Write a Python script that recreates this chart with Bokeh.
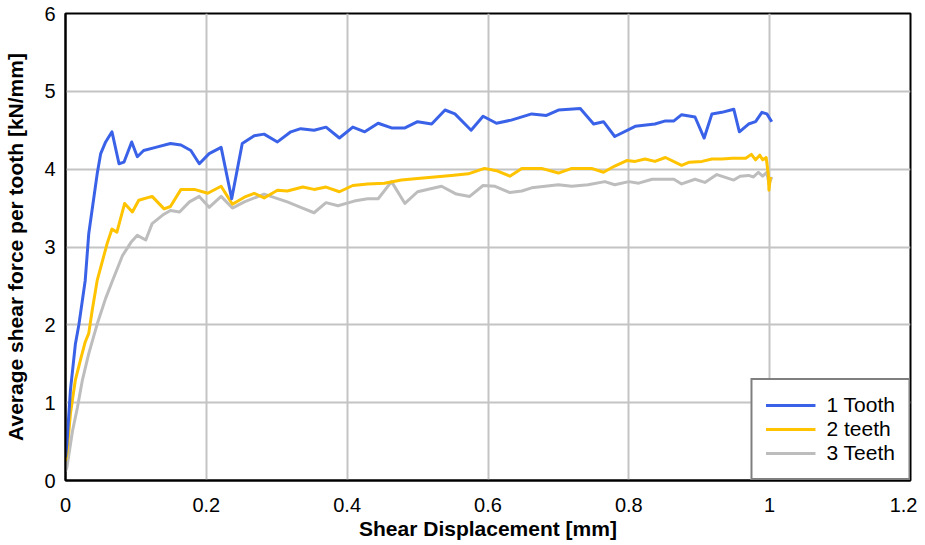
from bokeh.plotting import figure
from bokeh.models import Range1d, FixedTicker, Legend, LegendItem
from bokeh.embed import file_html
from bokeh.resources import INLINE

# ---- data ----
x_one = [0.0, 0.002, 0.007, 0.014, 0.019, 0.028, 0.033, 0.045, 0.05, 0.057, 0.066, 0.076, 0.083,
         0.094, 0.102, 0.111, 0.128, 0.149, 0.164, 0.178, 0.19, 0.204, 0.221, 0.236, 0.251,
         0.268, 0.282, 0.301, 0.32, 0.334, 0.353, 0.37, 0.389, 0.408, 0.425, 0.444, 0.463,
         0.482, 0.50, 0.52, 0.539, 0.553, 0.576, 0.593, 0.612, 0.633, 0.662, 0.683, 0.70,
         0.731, 0.75, 0.764, 0.78, 0.809, 0.837, 0.852, 0.864, 0.875, 0.894, 0.907, 0.918,
         0.932, 0.949, 0.957, 0.97, 0.98, 0.989, 0.996, 1.003]
y_one = [0.30, 0.47, 1.16, 1.75, 2.0, 2.57, 3.17, 3.94, 4.2, 4.35, 4.48, 4.07, 4.09,
         4.35, 4.16, 4.24, 4.28, 4.33, 4.31, 4.24, 4.07, 4.2, 4.28, 3.62, 4.33,
         4.43, 4.45, 4.35, 4.48, 4.52, 4.5, 4.54, 4.40, 4.54, 4.48, 4.59, 4.53,
         4.53, 4.61, 4.58, 4.76, 4.71, 4.50, 4.68, 4.59, 4.63, 4.71, 4.69, 4.76,
         4.78, 4.58, 4.61, 4.42, 4.55, 4.58, 4.62, 4.62, 4.70, 4.67, 4.40, 4.71,
         4.73, 4.77, 4.48, 4.58, 4.61, 4.73, 4.71, 4.61]

x_two = [0.0, 0.002, 0.007, 0.014, 0.021, 0.028, 0.033, 0.038, 0.045, 0.059, 0.066, 0.073,
         0.084, 0.095, 0.104, 0.123, 0.14, 0.149, 0.164, 0.183, 0.202, 0.221, 0.237, 0.254,
         0.268, 0.282, 0.301, 0.315, 0.337, 0.353, 0.37, 0.389, 0.408, 0.429, 0.453, 0.477,
         0.50, 0.524, 0.548, 0.572, 0.595, 0.612, 0.631, 0.648, 0.676, 0.70, 0.719, 0.747,
         0.764, 0.78, 0.797, 0.809, 0.823, 0.837, 0.852, 0.875, 0.886, 0.904, 0.918, 0.932,
         0.947, 0.966, 0.974, 0.98, 0.986, 0.99, 0.995, 0.998, 0.999, 1.001]
y_two = [0.25, 0.35, 0.86, 1.29, 1.54, 1.78, 1.89, 2.19, 2.57, 3.04, 3.23, 3.19,
         3.56, 3.45, 3.60, 3.65, 3.49, 3.52, 3.74, 3.74, 3.69, 3.78, 3.55, 3.64,
         3.69, 3.63, 3.73, 3.72, 3.77, 3.74, 3.77, 3.71, 3.79, 3.81, 3.82, 3.86,
         3.88, 3.90, 3.92, 3.94, 4.01, 3.98, 3.91, 4.01, 4.01, 3.95, 4.01, 4.01,
         3.96, 4.04, 4.11, 4.10, 4.13, 4.10, 4.15, 4.05, 4.09, 4.10, 4.13, 4.13,
         4.14, 4.14, 4.19, 4.12, 4.18, 4.12, 4.15, 3.94, 3.73, 3.90]

x_three = [0.0, 0.002, 0.01, 0.017, 0.024, 0.033, 0.045, 0.057, 0.066, 0.081, 0.093, 0.102,
           0.114, 0.123, 0.138, 0.149, 0.162, 0.176, 0.19, 0.204, 0.221, 0.237, 0.254, 0.282,
           0.315, 0.334, 0.353, 0.37, 0.387, 0.41, 0.429, 0.444, 0.463, 0.482, 0.50, 0.534,
           0.555, 0.574, 0.593, 0.61, 0.631, 0.648, 0.662, 0.681, 0.70, 0.719, 0.742, 0.766,
           0.78, 0.80, 0.814, 0.833, 0.852, 0.864, 0.875, 0.894, 0.908, 0.925, 0.949, 0.958,
           0.97, 0.977, 0.984, 0.99, 0.996, 0.999, 1.003]
y_three = [0.12, 0.17, 0.64, 0.94, 1.29, 1.63, 2.01, 2.34, 2.55, 2.89, 3.06, 3.15,
           3.09, 3.30, 3.41, 3.47, 3.45, 3.58, 3.65, 3.51, 3.65, 3.50, 3.58, 3.68,
           3.58, 3.51, 3.44, 3.57, 3.53, 3.59, 3.62, 3.62, 3.84, 3.56, 3.71, 3.78,
           3.68, 3.65, 3.79, 3.78, 3.70, 3.72, 3.76, 3.78, 3.80, 3.78, 3.80, 3.84,
           3.80, 3.84, 3.82, 3.87, 3.87, 3.87, 3.81, 3.87, 3.83, 3.93, 3.86, 3.91,
           3.92, 3.90, 3.96, 3.91, 3.96, 3.81, 3.90]

series_names = ["1 Tooth", "2 teeth", "3 Teeth"]
series_colors = ["#3a62e8", "#ffc300", "#bdbdbd"]

x_ticks = [0, 0.2, 0.4, 0.6, 0.8, 1.0, 1.2]
x_tick_labels = {0: "0", 0.2: "0.2", 0.4: "0.4", 0.6: "0.6", 0.8: "0.8", 1.0: "1", 1.2: "1.2"}
y_ticks = [0, 1, 2, 3, 4, 5, 6]

FONT = "Liberation Sans"

p = figure(width=917, height=542, output_backend="svg", toolbar_location=None,
           x_range=Range1d(0, 1.2), y_range=Range1d(0, 6),
           min_border_left=65, min_border_right=7, min_border_top=13, min_border_bottom=62)

p.outline_line_color = "black"
p.outline_line_width = 2
p.background_fill_color = "white"
p.border_fill_color = "white"

for ax in (p.xaxis[0], p.yaxis[0]):
    ax.axis_line_color = "black"
    ax.axis_line_width = 2
    ax.major_tick_in = 0
    ax.major_tick_out = 0
    ax.minor_tick_in = 0
    ax.minor_tick_out = 0
    ax.major_label_text_font = FONT
    ax.major_label_text_font_size = "20px"
    ax.major_label_text_color = "black"
    ax.axis_label_text_font = FONT
    ax.axis_label_text_font_size = "21px"
    ax.axis_label_text_font_style = "bold"
    ax.axis_label_text_color = "black"

p.xaxis.ticker = FixedTicker(ticks=x_ticks)
p.xaxis.major_label_overrides = x_tick_labels
p.yaxis.ticker = FixedTicker(ticks=y_ticks)
p.xaxis.axis_label = "Shear Displacement [mm]"
p.yaxis.axis_label = "Average shear force per tooth [kN/mm]"
p.xaxis.major_label_standoff = 17
p.xaxis.axis_label_standoff = 2
p.yaxis.major_label_standoff = 10
p.yaxis.axis_label_standoff = 14

p.xgrid.grid_line_color = "#c4c4c4"
p.ygrid.grid_line_color = "#c4c4c4"
p.xgrid.grid_line_width = 2
p.ygrid.grid_line_width = 2

items = []
for xs, ys, name, col in [(x_one, y_one, series_names[0], series_colors[0]),
                          (x_two, y_two, series_names[1], series_colors[1]),
                          (x_three, y_three, series_names[2], series_colors[2])]:
    r = p.line(xs, ys, line_color=col, line_width=3, line_join="round")
    items.append(LegendItem(label=name, renderers=[r]))

# draw order: gray under yellow under blue
p.renderers = p.renderers[::-1]

legend = Legend(items=items, location="bottom_right", margin=0, padding=13,
                spacing=-1, label_standoff=11, glyph_width=50, glyph_height=20,
                label_height=21, label_text_font=FONT, label_text_font_size="21px",
                label_text_color="black", border_line_color="black",
                border_line_width=2, background_fill_alpha=1.0)
p.add_layout(legend, "center")

open("out.html", "w").write(file_html(p, INLINE))
